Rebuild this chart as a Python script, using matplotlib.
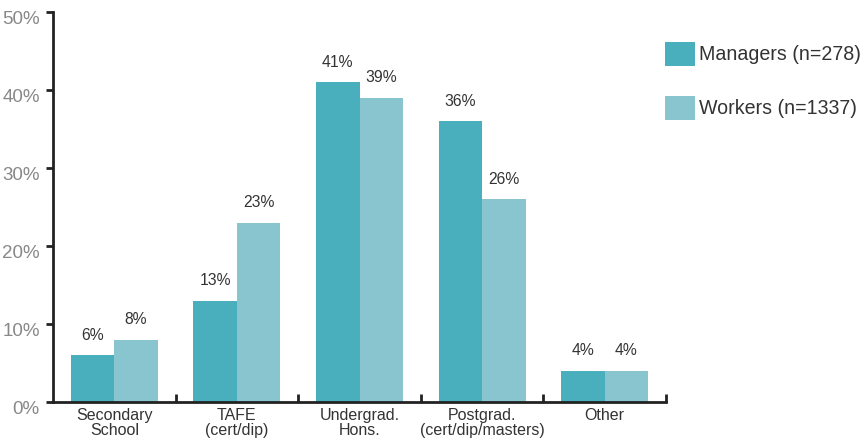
import matplotlib
matplotlib.use("Agg")
import matplotlib.pyplot as plt
import matplotlib.transforms as mtransforms
from matplotlib.patches import Patch
import numpy as np

categories = ["Secondary\nSchool", "TAFE\n(cert/dip)", "Undergrad.\nHons.", "Postgrad.\n(cert/dip/masters)", "Other"]
managers = [6, 13, 41, 36, 4]
workers = [8, 23, 39, 26, 4]
series_names = ["Managers (n=278)", "Workers (n=1337)"]
y_ticks = [0, 10, 20, 30, 40, 50]
y_tick_labels = ["0%", "10%", "20%", "30%", "40%", "50%"]

dark = "#4AAFBC"
light = "#89C5CE"
axis_col = "#222222"

plt.rcParams['font.family'] = ['Liberation Sans', 'DejaVu Sans']

fig = plt.figure(figsize=(8.67, 4.42), dpi=100)
ax = fig.add_axes([53/867, 40/442, (666-53)/867, (402-12)/442])

x = np.arange(len(categories))
w = 0.355
ax.bar(x - w/2, managers, width=w, color=dark, linewidth=0)
ax.bar(x + w/2, workers, width=w, color=light, linewidth=0)

for xi, v in zip(x, managers):
    ax.text(xi - w/2, v + 1.6, f"{v}%", ha="center", va="bottom", fontsize=11.3, color="#333333")
for xi, v in zip(x, workers):
    ax.text(xi + w/2, v + 1.6, f"{v}%", ha="center", va="bottom", fontsize=11.3, color="#333333")

ax.set_xlim(-0.5, len(categories) - 0.5)
ax.set_ylim(0, 50)
ax.set_yticks(y_ticks)
ax.set_yticklabels(y_tick_labels, fontsize=13.5, color="#888888")
ax.tick_params(axis='y', direction='out', length=5, width=2, color=axis_col, pad=4.5)
offset = mtransforms.ScaledTranslation(0, -6/100, fig.dpi_scale_trans)
for lab in ax.get_yticklabels():
    lab.set_transform(lab.get_transform() + offset)

ax.set_xticks(np.arange(len(categories)) + 0.5)
ax.set_xticklabels([])
ax.tick_params(axis='x', direction='in', length=6, width=2, color=axis_col)
ax.set_xticks(x, minor=True)
ax.set_xticklabels(categories, minor=True, fontsize=11.5, color="#333333", linespacing=1.0)
ax.tick_params(axis='x', which='minor', length=0, pad=4)

for s in ["top", "right"]:
    ax.spines[s].set_visible(False)
for s in ["left", "bottom"]:
    ax.spines[s].set_linewidth(2)
    ax.spines[s].set_color(axis_col)

handles = [Patch(facecolor=dark, edgecolor='none'), Patch(facecolor=light, edgecolor='none')]
fig.legend(handles, series_names, loc="upper left", bbox_to_anchor=(647/867, 1 - 24/442),
           frameon=False, fontsize=14.1, handlelength=1.55, handleheight=1.55,
           labelspacing=1.5, handletextpad=0.2, labelcolor="#333333")

fig.savefig("out.png", dpi=100)
